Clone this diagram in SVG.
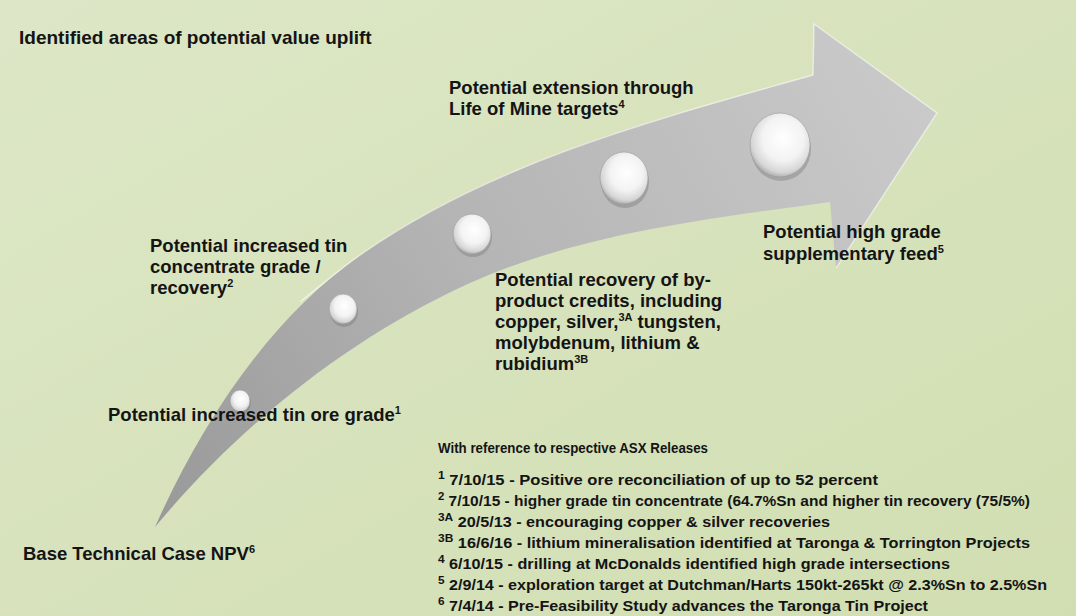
<svg xmlns="http://www.w3.org/2000/svg" width="1076" height="616" viewBox="0 0 1076 616">
<defs>
<linearGradient id="bg" x1="0" y1="0" x2="1" y2="1">
<stop offset="0" stop-color="#dde7c7"/>
<stop offset="1" stop-color="#d1deb1"/>
</linearGradient>
<linearGradient id="arrowFill" gradientUnits="userSpaceOnUse" x1="155" y1="527" x2="937" y2="100">
<stop offset="0" stop-color="#999999"/>
<stop offset="0.45" stop-color="#b4b4b4"/>
<stop offset="1" stop-color="#cacaca"/>
</linearGradient>
<radialGradient id="ball" cx="0.55" cy="0.4" r="0.62">
<stop offset="0" stop-color="#ffffff"/>
<stop offset="0.55" stop-color="#f3f3f3"/>
<stop offset="0.85" stop-color="#d6d6d6"/>
<stop offset="1" stop-color="#a9a9a9"/>
</radialGradient>
<style>
.lbl{font-family:"Liberation Sans",Arial,sans-serif;font-weight:bold;font-size:18.5px;fill:#141414}
.fn{font-family:"Liberation Sans",Arial,sans-serif;font-weight:bold;font-size:15px;fill:#141414}
.sup{font-size:11px}
.dot{fill:url(#ball);stroke:#9a9a9a;stroke-width:0.6}
.shadow{fill:#6e6e6e;opacity:0.35}
</style>
</defs>
<rect width="1076" height="616" fill="url(#bg)"/>
<g id="arrow">
<path d="M155,527 C202,422 269,319 363,253 C495,161 658,119 813,75 L814,24 L937,113 L836,268 L830,202 C708,219 582,233 470,283 C349,338 240,425 155,527 Z" fill="url(#arrowFill)"/>
<path d="M300,302 C330,278 345,265 363,253 C495,161 658,119 813,75 L814,24 L937,113 L836,268" fill="none" stroke="#ffffff" stroke-opacity="0.55" stroke-width="1.4"/>
</g>
<g id="milestone-1"><ellipse class="shadow" cx="241" cy="403" rx="10" ry="11"/><ellipse class="dot" cx="240" cy="401" rx="10" ry="11"/></g>
<g id="milestone-2"><ellipse class="shadow" cx="344" cy="312" rx="14" ry="15"/><ellipse class="dot" cx="343" cy="309" rx="14" ry="15"/></g>
<g id="milestone-3"><ellipse class="shadow" cx="473" cy="237" rx="19" ry="20"/><ellipse class="dot" cx="472" cy="234" rx="19" ry="20"/></g>
<g id="milestone-4"><ellipse class="shadow" cx="625" cy="182" rx="24" ry="26"/><ellipse class="dot" cx="624" cy="178" rx="24" ry="26"/></g>
<g id="milestone-5"><ellipse class="shadow" cx="781" cy="149" rx="30" ry="32"/><ellipse class="dot" cx="780" cy="145" rx="30" ry="32"/></g>
<g id="title"><text class="lbl" x="19" y="44" style="font-size:19px">Identified areas of potential value uplift</text></g>
<g id="label-extension">
<text class="lbl" x="449" y="94">Potential extension through</text>
<text class="lbl" x="449" y="115">Life of Mine targets<tspan class="sup" dy="-7">4</tspan></text>
</g>
<g id="label-concentrate">
<text class="lbl" x="150" y="252">Potential increased tin</text>
<text class="lbl" x="150" y="273">concentrate grade /</text>
<text class="lbl" x="150" y="294">recovery<tspan class="sup" dy="-7">2</tspan></text>
</g>
<g id="label-ore-grade"><text class="lbl" x="108" y="421">Potential increased tin ore grade<tspan class="sup" dy="-7">1</tspan></text></g>
<g id="label-base"><text class="lbl" x="23" y="560">Base Technical Case NPV<tspan class="sup" dy="-7">6</tspan></text></g>
<g id="label-byproduct">
<text class="lbl" x="495" y="286">Potential recovery of by-</text>
<text class="lbl" x="495" y="307">product credits, including</text>
<text class="lbl" x="495" y="328">copper, silver,<tspan class="sup" dy="-7">3A</tspan><tspan dy="7"> tungsten,</tspan></text>
<text class="lbl" x="495" y="349">molybdenum, lithium &amp;</text>
<text class="lbl" x="495" y="370">rubidium<tspan class="sup" dy="-7">3B</tspan></text>
</g>
<g id="label-highgrade">
<text class="lbl" x="763" y="238">Potential high grade</text>
<text class="lbl" x="763" y="260">supplementary feed<tspan class="sup" dy="-7">5</tspan></text>
</g>
<g id="footnotes">
<text class="fn" x="438" y="453" textLength="270" lengthAdjust="spacingAndGlyphs">With reference to respective ASX Releases</text>
<text class="fn" x="438" y="485" textLength="440" lengthAdjust="spacingAndGlyphs"><tspan class="sup" dy="-6">1</tspan><tspan dy="6"> 7/10/15 - Positive ore reconciliation of up to 52 percent</tspan></text>
<text class="fn" x="438" y="506" textLength="592" lengthAdjust="spacingAndGlyphs"><tspan class="sup" dy="-6">2</tspan><tspan dy="6"> 7/10/15 - higher grade tin concentrate (64.7%Sn and higher tin recovery (75/5%)</tspan></text>
<text class="fn" x="438" y="527" textLength="392" lengthAdjust="spacingAndGlyphs"><tspan class="sup" dy="-6">3A</tspan><tspan dy="6"> 20/5/13 - encouraging copper &amp; silver recoveries</tspan></text>
<text class="fn" x="438" y="548" textLength="592" lengthAdjust="spacingAndGlyphs"><tspan class="sup" dy="-6">3B</tspan><tspan dy="6"> 16/6/16 - lithium mineralisation identified at Taronga &amp; Torrington Projects</tspan></text>
<text class="fn" x="438" y="569" textLength="512" lengthAdjust="spacingAndGlyphs"><tspan class="sup" dy="-6">4</tspan><tspan dy="6"> 6/10/15 - drilling at McDonalds identified high grade intersections</tspan></text>
<text class="fn" x="438" y="590" textLength="609" lengthAdjust="spacingAndGlyphs"><tspan class="sup" dy="-6">5</tspan><tspan dy="6"> 2/9/14 - exploration target at Dutchman/Harts 150kt-265kt @ 2.3%Sn to 2.5%Sn</tspan></text>
<text class="fn" x="438" y="611" textLength="490" lengthAdjust="spacingAndGlyphs"><tspan class="sup" dy="-6">6</tspan><tspan dy="6"> 7/4/14 - Pre-Feasibility Study advances the Taronga Tin Project</tspan></text>
</g>
</svg>
